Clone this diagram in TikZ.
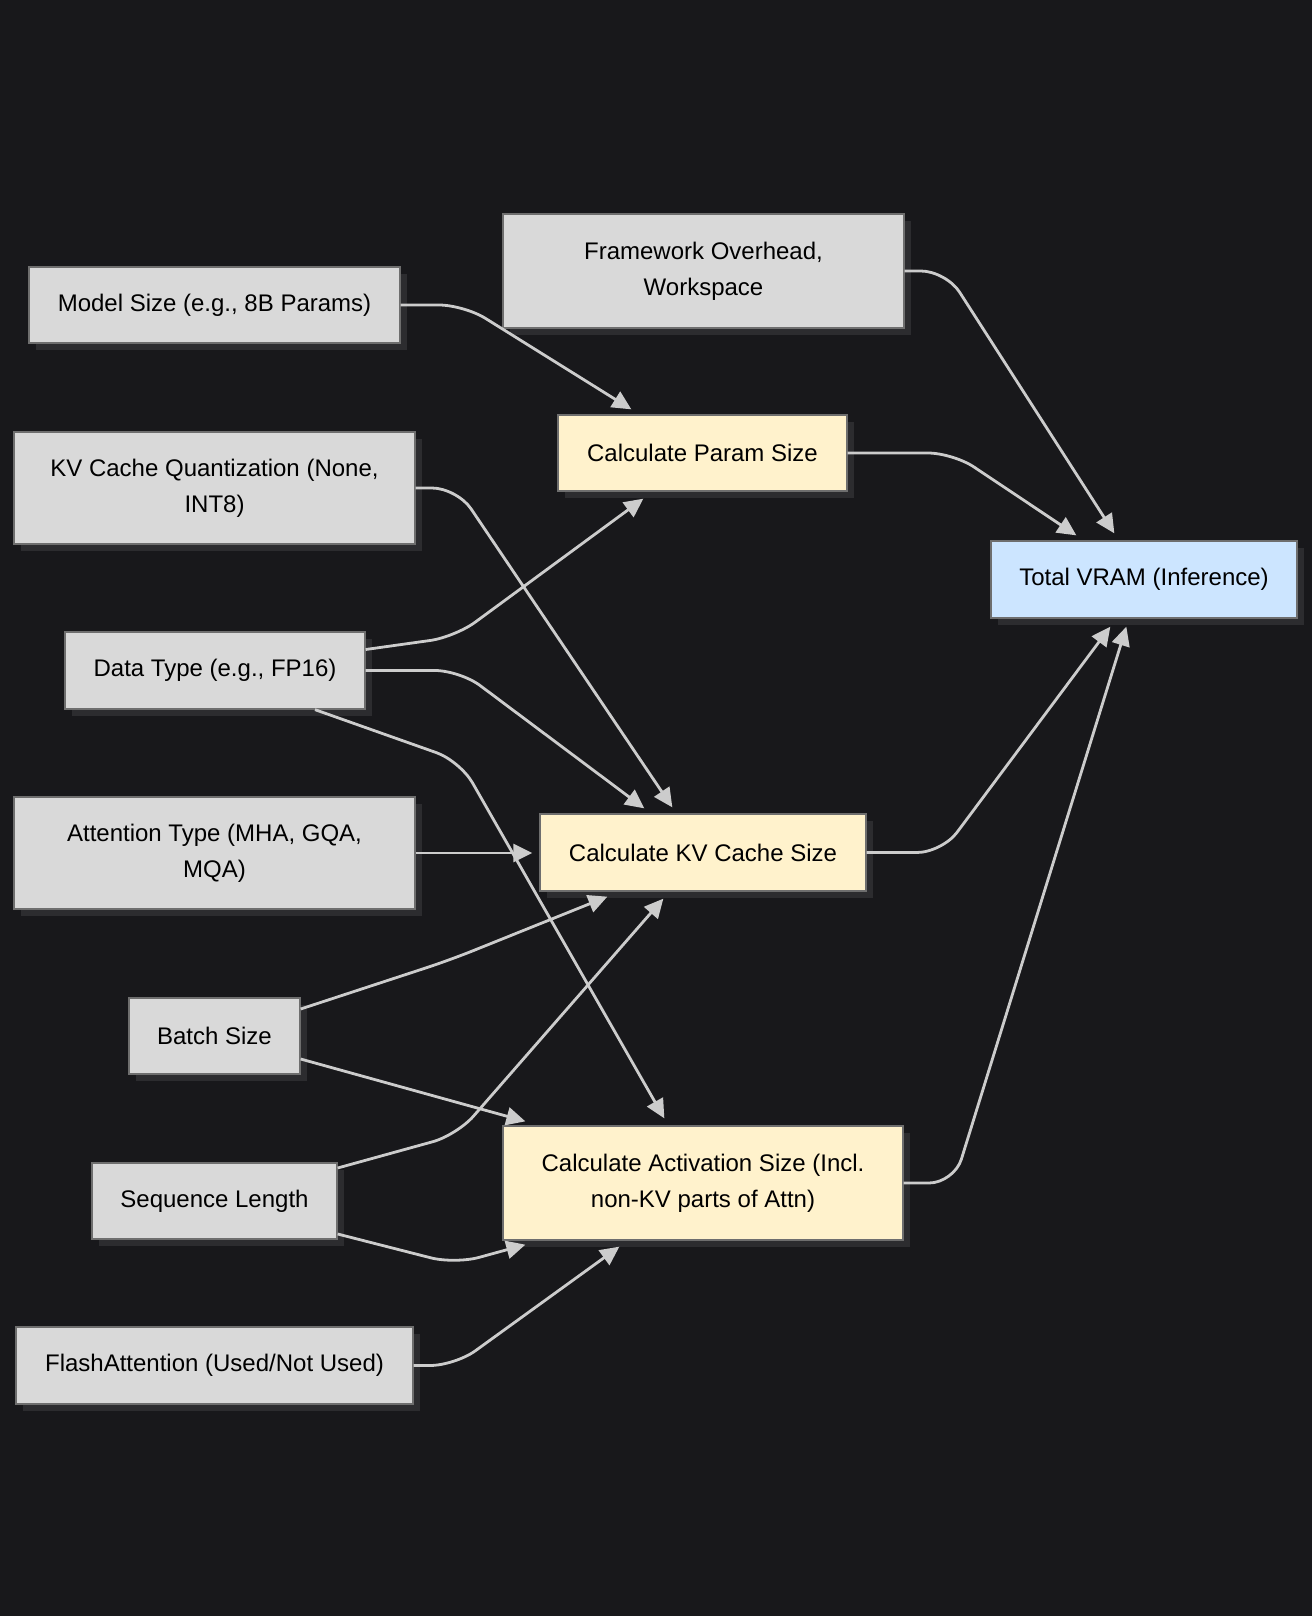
\documentclass[tikz,border=0pt]{standalone}
\usepackage{fontspec}
\setmainfont{Liberation Sans}
\usetikzlibrary{arrows.meta,shadows,calc}
\definecolor{bgc}{HTML}{18181B}
\definecolor{shadowc}{HTML}{2C2C2F}
\definecolor{boxborder}{HTML}{6E6E6E}
\definecolor{grayfill}{HTML}{D9D9D9}
\definecolor{yellowfill}{HTML}{FFF2CC}
\definecolor{bluefill}{HTML}{CCE5FF}
\definecolor{edgec}{HTML}{CCCCCC}
\begin{document}
\begin{tikzpicture}[x=1pt,y=-1pt,
  box/.style={draw=boxborder, line width=1.3pt, inner sep=0pt, align=center,
    font=\fontsize{24}{36}\selectfont, text=black,
    drop shadow={shadow xshift=7pt, shadow yshift=-7pt, fill=shadowc, opacity=1}},
  graybox/.style={box, fill=grayfill},
  yellowbox/.style={box, fill=yellowfill},
  bluebox/.style={box, fill=bluefill},
  edge/.style={draw=edgec, line width=2.8pt, rounded corners=25pt,
    -{Triangle[length=19pt,width=18pt,fill=edgec]}}
]
\fill[bgc] (0,0) rectangle (1312,1616);
\useasboundingbox (0,0) rectangle (1312,1616);

\node[graybox, minimum width=401pt, minimum height=114pt] (fw) at (703.5,271) {Framework Overhead,\\Workspace};
\node[graybox, minimum width=371pt, minimum height=76pt] (model) at (214.5,305) {Model Size (e.g., 8B Params)};
\node[yellowbox, minimum width=289pt, minimum height=76pt] (param) at (702.5,453) {Calculate Param Size};
\node[bluebox, minimum width=306pt, minimum height=77pt] (total) at (1144,579.5) {Total VRAM (Inference)};
\node[graybox, minimum width=401pt, minimum height=112pt] (kvq) at (214.5,488) {KV Cache Quantization (None,\\INT8)};
\node[graybox, minimum width=300pt, minimum height=77pt] (data) at (215,670.5) {Data Type (e.g., FP16)};
\node[graybox, minimum width=401pt, minimum height=112pt] (attn) at (214.5,853) {Attention Type (MHA, GQA,\\MQA)};
\node[yellowbox, minimum width=326pt, minimum height=77pt] (kv) at (703,852.5) {Calculate KV Cache Size};
\node[graybox, minimum width=171pt, minimum height=76pt] (batch) at (214.5,1036) {Batch Size};
\node[yellowbox, minimum width=400pt, minimum height=114pt] (act) at (703,1183) {Calculate Activation Size (Incl.\\non-KV parts of Attn)};
\node[graybox, minimum width=245pt, minimum height=76pt] (seq) at (214.5,1201) {Sequence Length};
\node[graybox, minimum width=397pt, minimum height=77pt] (flash) at (214.5,1365.5) {FlashAttention (Used/Not Used)};

% edges
\draw[edge] (model.east) -- (464,305) -- ($(param.north west)+(74,-5)$);
\draw[edge] (fw.east) -- (946,271) -- ($(total.north west)+(124,-7)$);
\draw[edge] (param.east) -- (953,453) -- ($(total.north west)+(86,-5)$);
\draw[edge] (kvq.east) -- (457,488) -- ($(kv.north west)+(133,-6)$);
\draw[edge] ($(data.east)+(0,-21)$) -- (455,637) -- ($(param.south west)+(86,7)$);
\draw[edge] (data.east) -- (460,670.5) -- ($(kv.north west)+(105,-5)$);
\draw[edge] ($(data.south)+(100,0)$) -- (460,761) -- ($(act.north west)+(162,-7)$);
\draw[edge] (attn.east) -- ($(kv.west |- attn.east)+(-7,0)$);
\draw[edge] ($(batch.east)+(0,-27)$) -- (450,960) -- ($(kv.south west)+(68,5)$);
\draw[edge] ($(batch.east)+(0,23)$) -- ($(act.north west)+(23,-4)$);
\draw[edge] ($(seq.east)+(0,-33)$) -- (457,1135) -- ($(kv.south west)+(124,7)$);
\draw[edge] ($(seq.east)+(0,33)$) -- (455,1264) -- ($(act.south west)+(23,4)$);
\draw[edge] (flash.east) -- (455,1365.5) -- ($(act.south west)+(117,6)$);
\draw[edge] (kv.east) -- (942,852.5) -- ($(total.south west)+(120,8)$);
\draw[edge] (act.east) -- (954,1183) -- ($(total.south west)+(136,8)$);
\end{tikzpicture}
\end{document}
